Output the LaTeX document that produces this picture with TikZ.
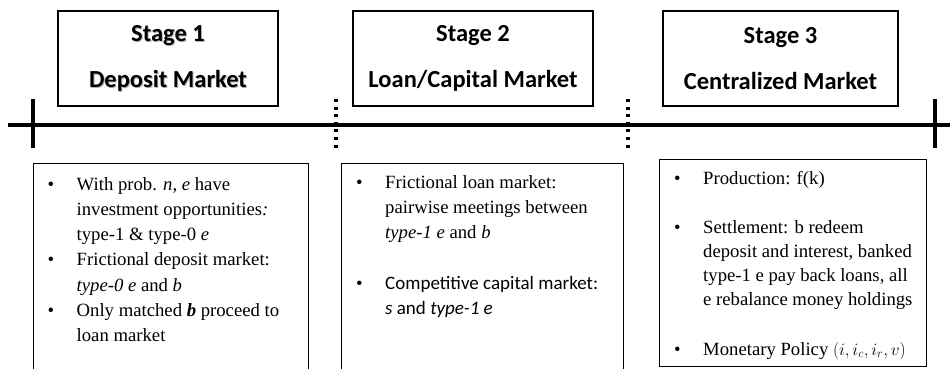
\documentclass[tikz,border=0pt]{standalone}
\usepackage{fontspec}
\setmainfont{Liberation Serif}[ItalicFont={Liberation Serif Italic},
  BoldFont={Liberation Serif Bold}, BoldItalicFont={Liberation Serif Bold Italic}]
\newfontfamily\calibri{Carlito}[ItalicFont={Carlito Italic},
  BoldFont={Carlito Bold}, BoldItalicFont={Carlito Bold Italic}]
\usetikzlibrary{positioning}

% bullet and hanging indent for the lists under the time line
\newcommand{\bul}{\makebox[29pt][l]{\textbullet}}
\newcommand{\hang}{\hspace*{29pt}}
\newcommand{\blist}[1]{\parbox[t]{265pt}{\raggedright #1}}

\begin{document}
\begin{tikzpicture}[x=1pt, y=-1pt,
  stage/.style = {draw, line width=1.1pt, minimum height=95pt, align=center,
    font=\calibri\bfseries\fontsize{24.5}{46}\selectfont},
  panel/.style = {draw, line width=1.1pt, anchor=north west},
  items/.style = {anchor=base west, inner sep=0pt},
  tick/.style = {line width=3.2pt},
  mid/.style = {line width=3.2pt, dash pattern=on 3pt off 4.6pt}]
\useasboundingbox (0,0) rectangle (950,368);
\clip (0,0) rectangle (950,368);

% the three stages (the first one has a soft text shadow)
\node[stage, draw=none, text=black!30, minimum width=220pt] (s1shadow) at (169,59.5) {Stage 1\\Deposit Market};
\node[stage, minimum width=220pt] (s1) at (168,58.5) {Stage 1\\Deposit Market};
\node[stage, minimum width=240pt] (s2) at (473,58.5) {Stage 2\\Loan/Capital Market};
\node[stage, minimum width=235pt] (s3) at (780.5,58.5) {Stage 3\\Centralized Market};

% time line
\coordinate (t0) at (8,125);
\coordinate (t1) at (950,125);
\draw[tick] (t0) -- (t1);
\draw[tick] (33,99) -- (33,148);
\draw[tick] (935,99) -- (935,148);
\draw[mid] (336,99) -- (336,150);
\draw[mid] (628,99) -- (628,150);

% what happens in each stage
\node[panel, minimum width=275pt, minimum height=230pt] (p1) at (33,163) {};
\node[panel, minimum width=282pt, minimum height=230pt] (p2) at (341,163) {};
\node[panel, minimum width=267pt, minimum height=207pt] (p3) at (659,159) {};

\node[items, font=\fontsize{18.7}{25.3}\selectfont] (l1) at (47.5,190) {\blist{%
\bul With prob. \textit{n, e} have\\
\hang investment opportunities\textit{:}\\
\hang type-1 \& type-0 \textit{e}\\
\bul Frictional deposit market:\\
\hang \textit{type-0 e} and \textit{b}\\
\bul Only matched \textbf{\textit{b}} proceed to\\
\hang loan market}};

\node[items, font=\fontsize{18.7}{25.3}\selectfont] (l2) at (356,188) {\blist{%
\bul Frictional loan market:\\
\hang pairwise meetings between\\
\hang \textit{type-1 e} and \textit{b}\\[25.3pt]
\bul {\calibri\fontsize{19}{25.3}\selectfont Competitive capital market:}\\
\hang {\calibri\fontsize{19}{25.3}\selectfont\textit{s} and \textit{type-1 e}}}};

\node[items, font=\fontsize{18.7}{24}\selectfont] (l3) at (674,184) {\blist{%
\bul Production: f(k)\\[25pt]
\bul Settlement: b redeem\\
\hang deposit and interest, banked\\
\hang type-1 e pay back loans, all\\
\hang e rebalance money holdings\\[26pt]
\bul Monetary Policy $(i, i_c, i_r, v)$}};
\end{tikzpicture}
\end{document}
